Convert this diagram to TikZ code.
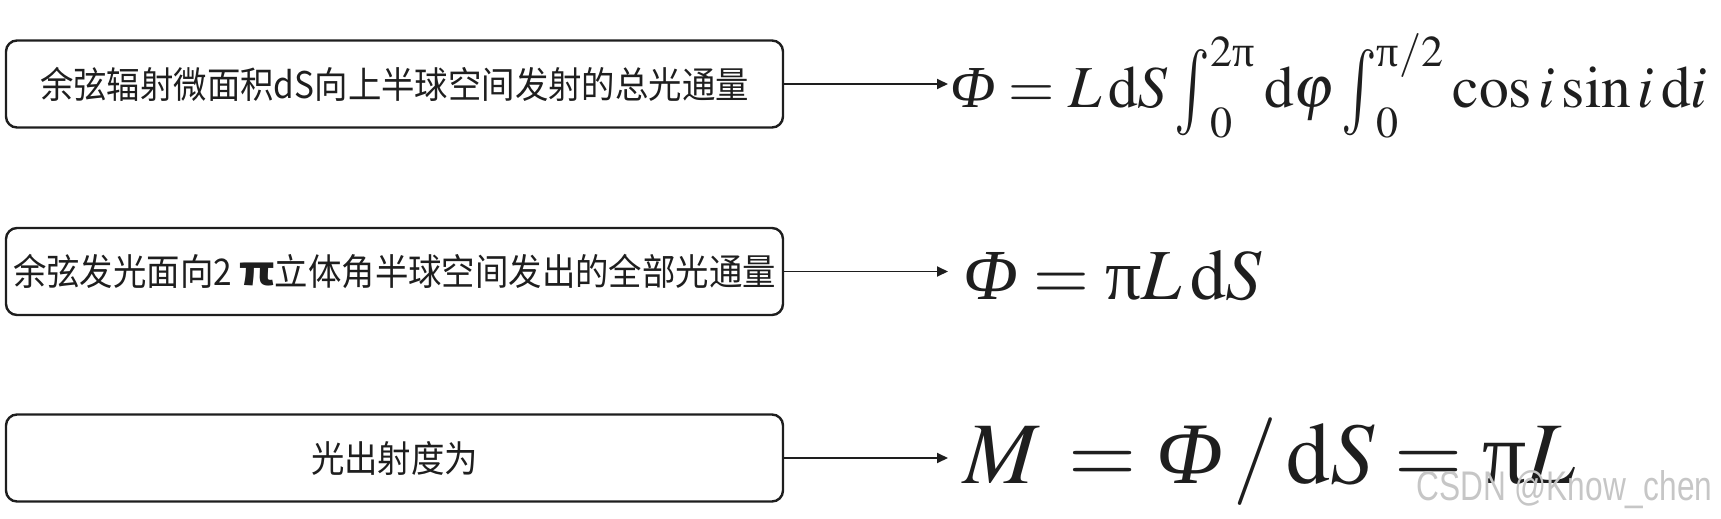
\documentclass[tikz,border=0pt]{standalone}
\usepackage{amsmath}
\usepackage{mathptmx}
\usepackage{fontspec}
\usepackage{graphicx}
\newfontfamily\cjk{Noto Sans CJK SC}
\newfontfamily\wmfont{Liberation Sans}
\newfontfamily\tms{Liberation Serif}
\newcommand{\myPhi}{\text{\tms\itshape Φ}}
\newcommand{\myupi}{\text{\tms π}}
\newcommand{\myint}{\mathop{\vcenter{\hbox{\scalebox{1}[1.45]{$\textstyle\intop$}}}}\nolimits}
\newcommand{\cjkstretch}[1]{\scalebox{1}[1.1]{#1}}
\usetikzlibrary{arrows.meta}
\definecolor{ink}{HTML}{1E1E1E}
\tikzset{
  textbox/.style={draw=ink, line width=2.4pt, rounded corners=11pt,
    minimum width=777pt, minimum height=87pt, inner sep=0pt,
    font=\cjk\fontsize{33.4}{36}\selectfont, text=ink},
  conn/.style={draw=ink, line width=1.8pt, -{Triangle[length=11pt,width=10pt]}},
  formula/.style={anchor=base west, inner sep=0pt, text=ink},
  watermark/.style={anchor=base west, inner sep=0pt, text=gray!45,
    font=\wmfont}
}
\begin{document}
\begin{tikzpicture}[x=1pt,y=-1pt]
\useasboundingbox (0,0) rectangle (1721,519);
\node[textbox] (b1) at (394.5,84) {\cjkstretch{余弦辐射微面积dS向上半球空间发射的总光通量}};
\node[textbox] (b2) at (394.5,271.5) {\cjkstretch{余弦发光面向2 \scalebox{1.45}[1.08]{\bfseries π}立体角半球空间发出的全部光通量}};
\node[textbox] (b3) at (394.5,458) {\cjkstretch{光出射度为}};
\coordinate (a1) at (948,84);
\coordinate (a2) at (948,271.5);
\coordinate (a3) at (948,458);
\draw[conn] (b1.east) -- (a1);
\draw[conn] (b2.east) -- (a2);
\draw[conn] (b3.east) -- (a3);
\node[formula] (f1) at (950,107) {\resizebox{757pt}{!}{$\myPhi = L\,\mathrm{d}S\myint_0^{2\myupi}\mathrm{d}\varphi\myint_0^{\myupi/2}\cos i\sin i\,\mathrm{d}i$}};
\node[formula] (f2) at (963,299) {\resizebox{299pt}{!}{$\myPhi = \myupi L\,\mathrm{d}S$}};
\node[formula] (f3) at (963,483) {\resizebox{612pt}{!}{$M\,=\myPhi\,/\,\mathrm{d}S=\myupi L$}};
\node[watermark] (wm) at (1416,500) {\resizebox{296pt}{30pt}{CSDN @Know\_chen}};
\end{tikzpicture}
\end{document}
